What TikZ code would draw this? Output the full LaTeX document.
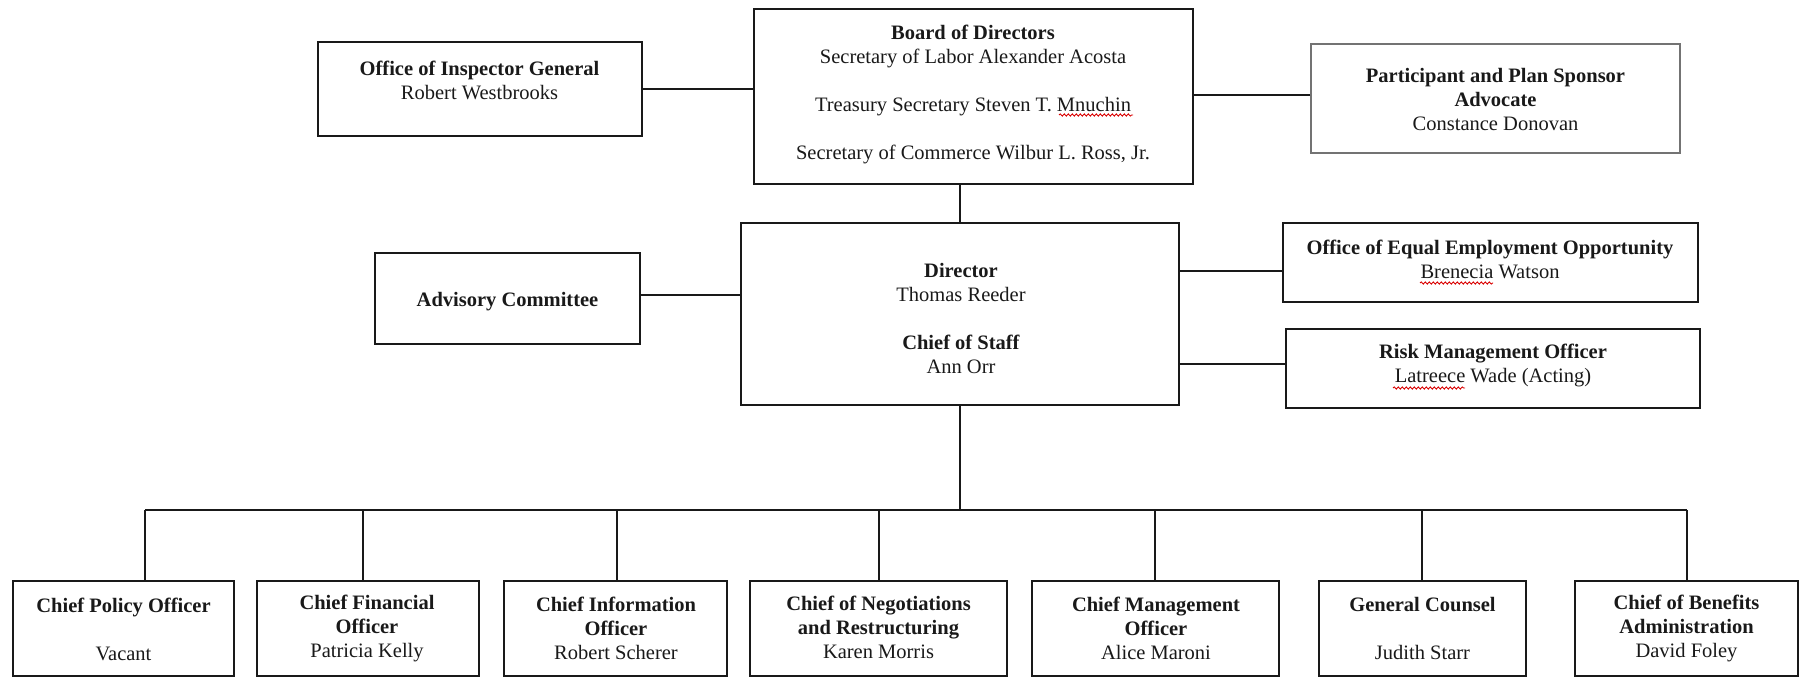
\documentclass[tikz,border=0pt]{standalone}
\usepackage{fontspec}
\setmainfont{Liberation Serif}
\usetikzlibrary{decorations.pathmorphing}
\newcommand{\fs}{\fontsize{20.5}{24}\selectfont}
\begin{document}
\begin{tikzpicture}[x=1pt,y=-1pt,
  box/.style={draw=black!90, line width=2pt, inner sep=0pt},
  thinbox/.style={draw=black!55, line width=1.3pt, inner sep=0pt},
  txt/.style={align=center, inner sep=0pt, font=\fs, text=black!90},
  link/.style={draw=black!90, line width=2pt},
  squig/.style={draw=red!85!black, line width=0.9pt, decorate, decoration={snake, amplitude=1.1pt, segment length=4pt}}]
\useasboundingbox (0,0) rectangle (1799,677);
% top row
\node[box, minimum width=324, minimum height=94] (oig) at (479.5,89) {};
\node[txt] (oigt) at (479.5,80) {\textbf{Office of Inspector General}\\Robert Westbrooks};
\node[box, minimum width=439, minimum height=175] (board) at (973,96.5) {};
\node[txt] (boardt) at (973,94) {\textbf{Board of Directors}\\Secretary of Labor Alexander Acosta\\[24pt]Treasury Secretary Steven T. Mnuchin\\[24pt]Secretary of Commerce Wilbur L. Ross, Jr.};
\node[thinbox, minimum width=369, minimum height=109] (part) at (1495.5,98.5) {};
\node[txt] (partt) at (1495.5,99) {\textbf{Participant and Plan Sponsor}\\\textbf{Advocate}\\Constance Donovan};
% middle row
\node[box, minimum width=265, minimum height=91] (adv) at (507.5,298.5) {};
\node[txt] (advt) at (507.5,302) {\textbf{Advisory Committee}};
\node[box, minimum width=438, minimum height=182] (dir) at (960,314) {};
\node[txt] (dirt) at (961,318) {\textbf{Director}\\Thomas Reeder\\[24pt]\textbf{Chief of Staff}\\Ann Orr};
\node[box, minimum width=415, minimum height=79] (eeo) at (1490.5,262.5) {};
\node[txt] (eeot) at (1490,259.5) {\textbf{Office of Equal Employment Opportunity}\\Brenecia Watson};
\node[box, minimum width=414, minimum height=79] (risk) at (1493,368.5) {};
\node[txt] (riskt) at (1493,365) {\textbf{Risk Management Officer}\\Latreece Wade (Acting)};
% bottom row
\node[box, minimum width=221, minimum height=95] (c1) at (123.5,628) {};
\node[txt] (c1t) at (123.5,629) {\textbf{Chief Policy Officer}\\[24pt]Vacant};
\node[box, minimum width=222, minimum height=95] (c2) at (368,628) {};
\node[txt] (c2t) at (367,628) {\textbf{Chief Financial}\\\textbf{Officer}\\Patricia Kelly};
\node[box, minimum width=223, minimum height=95] (c3) at (615.5,628) {};
\node[txt] (c3t) at (616,628) {\textbf{Chief Information}\\\textbf{Officer}\\Robert Scherer};
\node[box, minimum width=257, minimum height=95] (c4) at (878.5,628) {};
\node[txt] (c4t) at (878.5,627) {\textbf{Chief of Negotiations}\\\textbf{and Restructuring}\\Karen Morris};
\node[box, minimum width=247, minimum height=95] (c5) at (1155.5,628) {};
\node[txt] (c5t) at (1156,628) {\textbf{Chief Management}\\\textbf{Officer}\\Alice Maroni};
\node[box, minimum width=207, minimum height=95] (c6) at (1422.5,628) {};
\node[txt] (c6t) at (1422.5,628) {\textbf{General Counsel}\\[24pt]Judith Starr};
\node[box, minimum width=223, minimum height=95] (c7) at (1686.5,628) {};
\node[txt] (c7t) at (1686.5,628) {\textbf{Chief of Benefits}\\\textbf{Administration}\\David Foley};
% bus coordinates
\coordinate (bL) at (145,510);
\coordinate (bR) at (1687,510);
\coordinate (b1) at (145,510);
\coordinate (b2) at (363,510);
\coordinate (b3) at (617,510);
\coordinate (b4) at (879,510);
\coordinate (b5) at (1155,510);
\coordinate (b6) at (1422,510);
\coordinate (b7) at (1687,510);
% connectors
\draw[link] (oig.east) -- (oig.east -| board.west);
\draw[link] ([yshift=4pt]part.west) -- ([yshift=4pt]part.west -| board.east);
\draw[link] (dir.north) -- (dir.north |- board.south);
\draw[link] ([yshift=4pt]adv.east) -- ([yshift=4pt]adv.east -| dir.west);
\draw[link] ([yshift=-8pt]eeo.west) -- ([yshift=-8pt]eeo.west -| dir.east);
\draw[link] ([yshift=5pt]risk.west) -- ([yshift=5pt]risk.west -| dir.east);
\draw[link] (dir.south) -- (dir.south |- bL);
\draw[link] (bL) -- (bR);
\foreach \i in {1,...,7} {\draw[link] (b\i) -- (b\i |- c\i.north);}
% spell-check squiggles
\draw[squig] (1059,115) -- (1133,115);
\draw[squig] (1420,283) -- (1493,283);
\draw[squig] (1393,388) -- (1465,388);
\end{tikzpicture}
\end{document}
